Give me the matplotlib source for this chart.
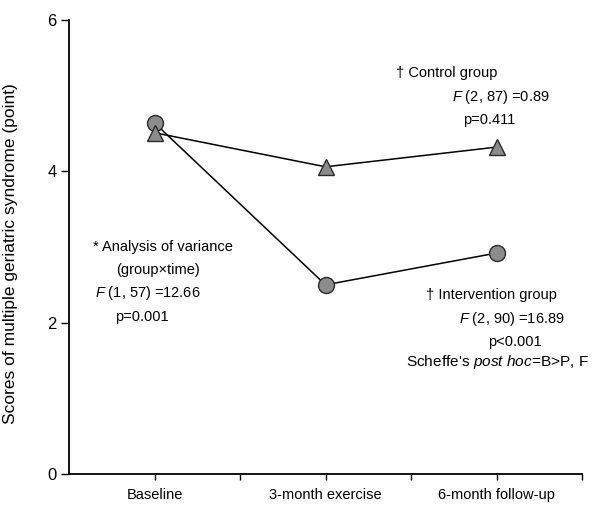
import matplotlib
matplotlib.use("Agg")
import matplotlib.pyplot as plt

plt.rcParams['font.family'] = ['Liberation Sans', 'DejaVu Sans']
plt.rcParams['mathtext.fontset'] = 'custom'
plt.rcParams['mathtext.rm'] = 'Liberation Sans'
plt.rcParams['mathtext.it'] = 'Liberation Sans:italic'

categories = ["Baseline", "3-month exercise", "6-month follow-up"]
control = [4.51, 4.06, 4.32]
intervention = [4.64, 2.50, 2.92]
yticks = [0, 2, 4, 6]
ylabel = "Scores of multiple geriatric syndrome (point)"

fig = plt.figure(figsize=(5.93, 5.05), dpi=100)
ax = fig.add_axes([69/593, 31/505, 513/593, 454/505])

xpos = [2 * i + 1 for i in range(len(categories))]

mk = dict(color='black', linewidth=1.1, markersize=11.5,
          markerfacecolor='#8c8c8c', markeredgecolor='#2a2a2a', markeredgewidth=1.0)
ax.plot(xpos, intervention, marker='o', zorder=3, **mk)
ax.plot(xpos, control, marker='^', zorder=3, **mk)

ax.set_xlim(0, 6)
ax.set_ylim(0, 6)
ax.set_yticks(yticks)
ax.set_yticklabels([str(v) for v in yticks], fontsize=12)
ax.set_xticks(xpos)
ax.set_xticklabels(categories, fontsize=10.5)
ax.set_xticks([x + 1 for x in xpos], minor=True)
ax.tick_params(axis='x', which='both', length=4, width=1.0, direction='out', pad=6)
ax.tick_params(axis='y', length=6, width=1.0, direction='out', pad=3)

for s in ['top', 'right']:
    ax.spines[s].set_visible(False)
for s in ['left', 'bottom']:
    ax.spines[s].set_linewidth(1.3)

ax.set_ylabel(ylabel, fontsize=12.5)
ax.yaxis.set_label_coords(-0.099, 0.485)

fs = 10.5
txt = [
    ("\u2020 Control group", 4.42, 5.30, fs),
    ("$\\mathit{F}$ (2, 87) =0.89", 5.05, 4.98, fs),
    ("p=0.411", 4.92, 4.68, fs),
    ("\u2020 Intervention group", 4.94, 2.37, fs),
    ("$\\mathit{F}$ (2, 90) =16.89", 5.18, 2.05, fs),
    ("p<0.001", 5.22, 1.74, fs),
    ("Scheffe's $\\mathit{post\\ hoc}$=B>P, F", 5.01, 1.48, 11.1),
    ("* Analysis of variance", 1.10, 3.00, fs),
    ("(group\u00d7time)", 1.04, 2.70, fs),
    ("$\\mathit{F}$ (1, 57) =12.66", 0.92, 2.39, fs),
    ("p=0.001", 0.85, 2.07, fs),
]
for s, x, y, f in txt:
    ax.text(x, y, s, fontsize=f, ha='center', va='center', clip_on=False)

fig.savefig("out.png", dpi=100)
